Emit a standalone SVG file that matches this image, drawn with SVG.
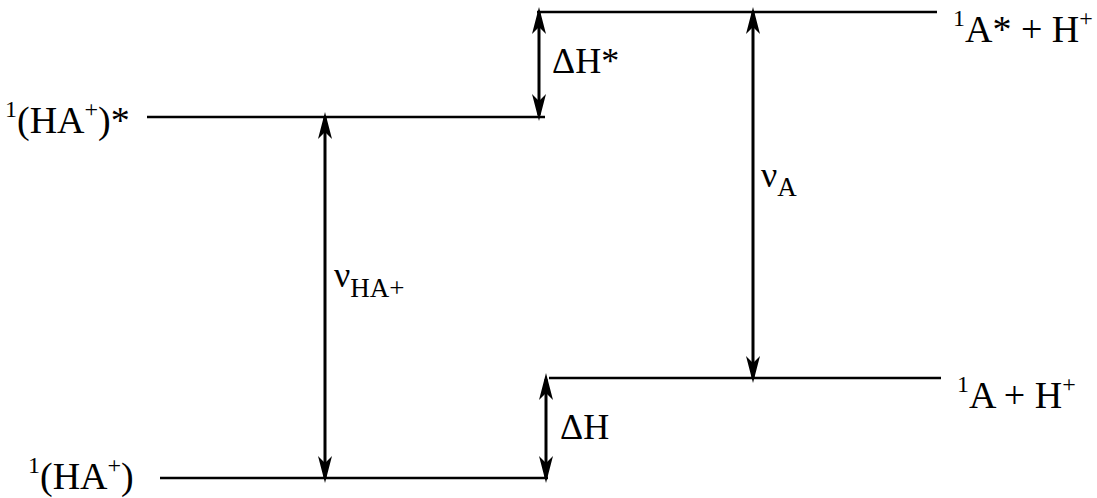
<svg xmlns="http://www.w3.org/2000/svg" width="1097" height="498" viewBox="0 0 1097 498">
<style>
.lvl{stroke:#000;stroke-width:2.5;fill:none}
.arr{stroke:#000;stroke-width:3;fill:none;marker-start:url(#ah);marker-end:url(#ah)}
text{font-family:"Liberation Serif","Times New Roman",serif;fill:#000;font-size:38px}
.sup{font-size:24px}
.sub{font-size:27px}
.big{font-size:36px}
</style>
<defs>
<marker id="ah" viewBox="-28 -9 30 18" markerWidth="30" markerHeight="18" refX="-6" refY="0" orient="auto-start-reverse" markerUnits="userSpaceOnUse">
<path d="M0,0 L-27,-7 L-20,0 L-27,7 Z" fill="#000"/>
</marker>
</defs>
<rect width="1097" height="498" fill="#fff"/>
<g id="level-HA-excited">
<line class="lvl" x1="147" y1="117" x2="545" y2="117"/>
<text x="5" y="133"><tspan class="sup" dy="-16">1</tspan><tspan dy="16">(HA</tspan><tspan class="sup" dy="-16">+</tspan><tspan dy="16">)*</tspan></text>
</g>
<g id="level-HA-ground">
<line class="lvl" x1="160" y1="478" x2="548" y2="478"/>
<text x="28" y="489"><tspan class="sup" dy="-16">1</tspan><tspan dy="16">(HA</tspan><tspan class="sup" dy="-16">+</tspan><tspan dy="16">)</tspan></text>
</g>
<g id="level-A-excited">
<line class="lvl" x1="537" y1="12" x2="937" y2="12"/>
<text x="953" y="42"><tspan class="sup" dy="-16">1</tspan><tspan dy="16">A* + H</tspan><tspan class="sup" dy="-16">+</tspan></text>
</g>
<g id="level-A-ground">
<line class="lvl" x1="549" y1="378" x2="941" y2="378"/>
<text x="957" y="408"><tspan class="sup" dy="-16">1</tspan><tspan dy="16">A + H</tspan><tspan class="sup" dy="-16">+</tspan></text>
</g>
<g id="connectors">
<line class="arr" x1="539" y1="13" x2="539" y2="115"/>
<line class="arr" x1="753" y1="13" x2="753" y2="377"/>
<line class="arr" x1="325" y1="118" x2="325" y2="477"/>
<line class="arr" x1="546" y1="379" x2="546" y2="477"/>
</g>
<g id="labels">
<text class="big" x="552" y="73">ΔH*</text>
<text class="big" x="560" y="439">ΔH</text>
<text class="big" x="334" y="287">ν<tspan class="sub" dy="10">HA+</tspan></text>
<text class="big" x="761" y="187">ν<tspan class="sub" dy="9">A</tspan></text>
</g>
</svg>
